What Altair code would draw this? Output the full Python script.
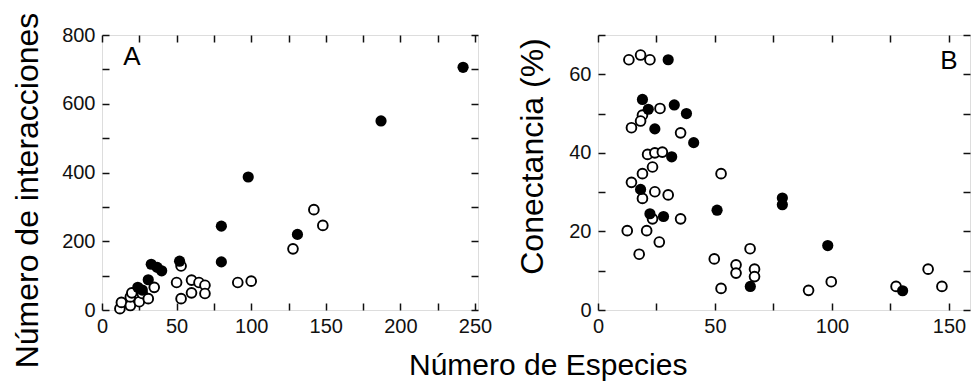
import altair as alt
import pandas as pd

# ---------------- Panel A: Número de interacciones vs Número de especies
a_filled_x = [242, 187, 98, 80, 80, 131, 52, 33, 37, 40, 31, 24, 27]
a_filled_y = [706, 550, 387, 244, 140, 220, 142, 133, 124, 114, 88, 66, 58]

a_open_x = [12, 13, 19, 19, 20, 25, 27, 31, 35, 50, 53, 53, 60, 60, 65, 69, 69, 91, 100, 128, 142, 148]
a_open_y = [4, 22, 13, 38, 50, 24, 48, 33, 66, 80, 128, 33, 87, 50, 80, 72, 48, 80, 84, 178, 292, 246]

# ---------------- Panel B: Conectancia (%) vs Número de especies
b_filled_x = [30, 19, 21.5, 32.6, 37.8, 24.3, 40.9, 31.5, 18.2, 22.2, 28, 50.9, 78.8, 78.8, 98.2, 65.1, 130.2]
b_filled_y = [63.7, 53.6, 51.1, 52.2, 50.0, 46.1, 42.6, 39.0, 30.7, 24.5, 23.8, 25.4, 28.5, 26.8, 16.4, 6.0, 4.9]

b_open_x = [13.2, 18.2, 22.2, 26.5, 19.0, 18.2, 14.3, 35.3, 21.2, 24.3, 27.5, 23.3, 19.0, 52.6,
            14.3, 24.3, 30.0, 19.0, 23.3, 35.3, 12.5, 20.8, 26.2, 17.6, 49.7, 65.0, 59.0, 59.0,
            66.9, 66.9, 52.6, 90.0, 99.7, 127.4, 141.1, 147.0]
b_open_y = [63.7, 64.9, 63.7, 51.3, 49.6, 48.1, 46.4, 45.1, 39.6, 40.0, 40.2, 36.4, 34.7, 34.7,
            32.5, 30.1, 29.3, 28.4, 23.2, 23.2, 20.2, 20.2, 17.3, 14.2, 13.0, 15.6, 11.5, 9.4,
            10.4, 8.5, 5.5, 5.0, 7.2, 6.0, 10.4, 6.0]

# Panel letters (placed in data coordinates)
a_letter = {"x": [20], "y": [735], "t": ["A"]}
b_letter = {"x": [150], "y": [63.5], "t": ["B"]}

FONT = "Liberation Sans"
INK = "#111111"
TICK_IN = alt.ExprRef(expr="-7")


def panel(ox, oy, fx, fy, xdom, ydom, xstep, xlab, ystep, ylab, ytitle, letter,
          w, h, title_x, title_y):
    xs = alt.Scale(domain=xdom, nice=False, zero=False)
    ys = alt.Scale(domain=ydom, nice=False, zero=False)
    common = dict(grid=False, domain=False, ticks=True, tickSize=TICK_IN,
                  tickColor=INK, tickWidth=1.5, labelFont=FONT, labelFontSize=20,
                  labelColor=INK, labelFlush=False, labelOverlap=False)
    xvals = list(range(0, int(xdom[1]) + 1, xstep))
    yvals = list(range(0, int(ydom[1]) + 1, ystep))
    xb = alt.Axis(orient="bottom", values=xvals, title="", labelPadding=13,
                  labelExpr=f"datum.value % {xlab} == 0 ? datum.label : ''", **common)
    yl = alt.Axis(orient="left", values=yvals, title=ytitle, labelPadding=14,
                  titleFont=FONT, titleFontSize=32, titleFontWeight="normal",
                  titleColor="#000", titleX=title_x, titleY=title_y,
                  labelExpr=f"datum.value % {ylab} == 0 ? datum.label : ''", **common)
    xt = alt.Axis(orient="top", values=xvals, title="", labels=False, **common)
    yr = alt.Axis(orient="right", values=yvals, title="", labels=False, **common)

    d_open = pd.DataFrame({"x": ox, "y": oy})
    d_fill = pd.DataFrame({"x": fx, "y": fy})
    d_let = pd.DataFrame(letter)

    open_l = alt.Chart(d_open).mark_point(
        shape="circle", filled=True, fill="white", stroke="black",
        strokeWidth=1.9, size=95, opacity=1
    ).encode(x=alt.X("x:Q", scale=xs, axis=xb), y=alt.Y("y:Q", scale=ys, axis=yl))

    fill_l = alt.Chart(d_fill).mark_point(
        shape="circle", filled=True, color="black", size=125, opacity=1
    ).encode(x=alt.X("x:Q", scale=xs, axis=xt), y=alt.Y("y:Q", scale=ys, axis=yr))

    let_l = alt.Chart(d_let).mark_text(
        font=FONT, fontSize=26, color="black", align="center", baseline="middle"
    ).encode(x=alt.X("x:Q", scale=xs, axis=None), y=alt.Y("y:Q", scale=ys, axis=None),
             text="t:N")

    return alt.layer(open_l, fill_l, let_l).resolve_axis(
        x="independent", y="independent"
    ).properties(width=w, height=h)


pa = panel(a_open_x, a_open_y, a_filled_x, a_filled_y, [0, 252], [0, 800], 25, 50,
           100, 200, "Número de interacciones", a_letter, 376, 275, -58, 155)
pb = panel(b_open_x, b_open_y, b_filled_x, b_filled_y, [0, 159], [0, 70], 25, 50,
           10, 20, "Conectancia (%)", b_letter, 372, 275, -49, 121)

chart = alt.hconcat(
    pa, pb, spacing=120, bounds="flush",
    title=alt.TitleParams(text="Número de Especies", orient="bottom", anchor="start",
                          frame="group", font=FONT, fontSize=30, fontWeight="normal",
                          color="#000", dx=307, offset=-17)
).properties(
    padding={"left": 10, "top": 11, "right": 5, "bottom": 5}
).configure_view(stroke=INK, strokeWidth=1.6).configure(font=FONT, background="white")

chart.save("out.html", embed_options={"renderer": "svg", "actions": False})
